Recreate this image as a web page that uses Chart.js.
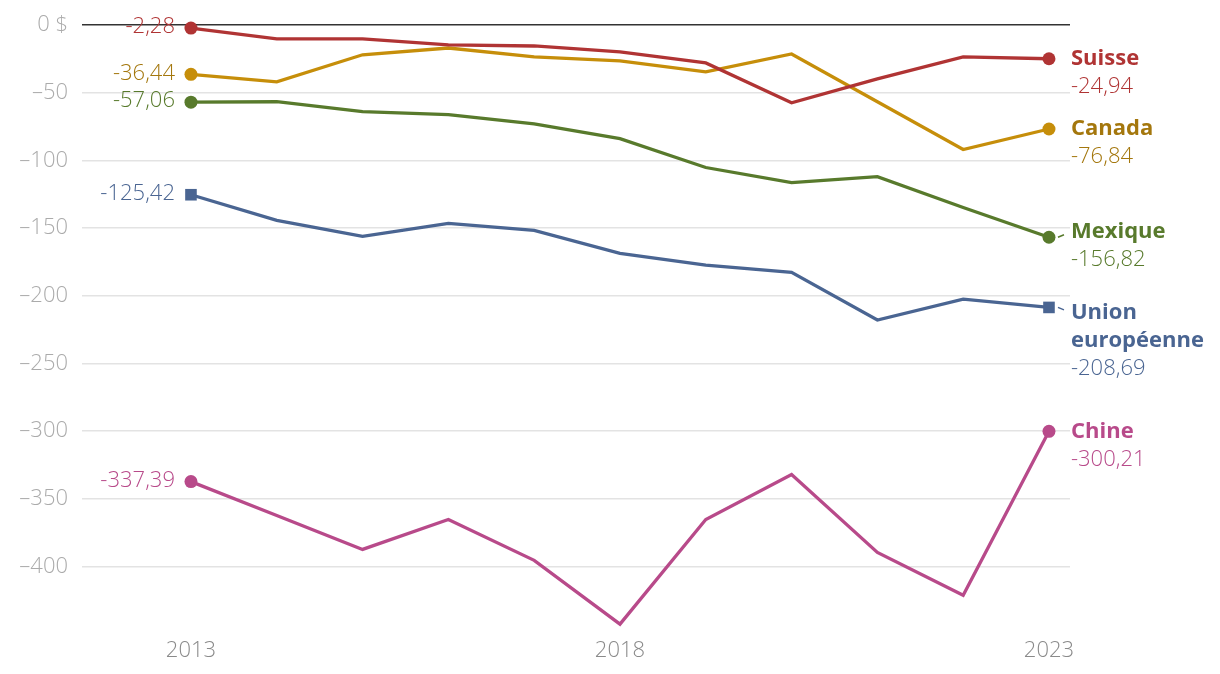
<!DOCTYPE html>
<html>
<head>
<meta charset="utf-8">
<script src="https://cdn.jsdelivr.net/npm/chart.js@4"></script>
<style>
  html, body { margin: 0; padding: 0; background: #fff; }
  #wrap { width: 1220px; height: 674px; }
</style>
</head>
<body>
<div id="wrap"><canvas id="balanceChart"></canvas></div>
<script>
// Années
const annees = [2013, 2014, 2015, 2016, 2017, 2018, 2019, 2020, 2021, 2022, 2023];
const xTicks = [2013, 2018, 2023];

// Soldes par partenaire (milliards $)
const suisse   = [-2.28, -10.3, -10.3, -14.7, -15.5, -19.9, -28.0, -57.5, -39.8, -23.6, -24.94];
const canada   = [-36.44, -42.0, -22.0, -17.0, -23.6, -26.5, -34.6, -21.4, -56.7, -92.0, -76.84];
const mexique  = [-57.06, -56.7, -64.0, -66.3, -73.0, -84.0, -105.3, -116.4, -112.0, -134.8, -156.82];
const ue       = [-125.42, -144.4, -156.2, -146.6, -151.7, -168.7, -177.5, -182.7, -218.0, -202.6, -208.69];
const chine    = [-337.39, -362.4, -387.5, -365.4, -395.6, -442.7, -365.4, -332.2, -389.7, -421.4, -300.21];

const yTicks = [0, -50, -100, -150, -200, -250, -300, -350, -400];

const font = "'Open Sans', Lato, sans-serif";
const fmt = v => v.toFixed(2).replace('.', ',');

function serie(nom, data, couleur, texte, forme, dy) {
    return {
        label: nom,
        data: data.map((v, i) => ({ x: annees[i], y: v })),
        borderColor: couleur,
        backgroundColor: couleur,
        borderWidth: 3.3,
        tension: 0,
        pointStyle: forme,
        pointBorderWidth: 0,
        pointRadius: c => (c.dataIndex === 0 || c.dataIndex === data.length - 1) ? (forme === 'rect' ? 8.2 : 6.5) : 0,
        pointHoverRadius: 0,
        clip: false,
        texte: texte,
        dy: dy || 0
    };
}

// Étiquettes début / fin
const etiquettes = {
    id: 'etiquettes',
    afterDatasetsDraw(chart) {
        const ctx = chart.ctx;
        chart.data.datasets.forEach((ds, i) => {
            const pts = chart.getDatasetMeta(i).data;
            const first = pts[0], last = pts[pts.length - 1];
            const v0 = ds.data[0].y, v1 = ds.data[ds.data.length - 1].y;
            ctx.save();
            ctx.textBaseline = 'middle';
            ctx.fillStyle = ds.texte;
            ctx.font = '300 22px ' + font;
            ctx.textAlign = 'right';
            ctx.fillText(fmt(v0), first.x - 16, first.y - 1);

            const lx = last.x + 22;
            let ly = last.y + ds.dy;
            if (ds.dy) {
                ctx.strokeStyle = ds.borderColor;
                ctx.lineWidth = 1.5;
                ctx.beginPath();
                ctx.moveTo(last.x + 9, last.y);
                ctx.lineTo(last.x + 15, last.y + ds.dy / 2);
                ctx.stroke();
            }
            ctx.textAlign = 'left';
            const lignes = ds.label.split('\n');
            ctx.font = 'bold 22px ' + font;
            lignes.forEach(l => { ctx.fillText(l, lx, ly); ly += 28; });
            ctx.font = '300 22px ' + font;
            ctx.fillText(fmt(v1), lx, ly);
            ctx.restore();
        });
    }
};

new Chart(document.getElementById('balanceChart'), {
    type: 'line',
    data: {
        datasets: [
            serie('Suisse', suisse, '#b03434', '#b03434', 'circle'),
            serie('Canada', canada, '#c68e0a', '#a4770d', 'circle'),
            serie('Mexique', mexique, '#587a2c', '#587a2c', 'circle', -5),
            serie('Union\neuropéenne', ue, '#4a6592', '#4a6592', 'rect', 5),
            serie('Chine', chine, '#b84a8a', '#b84a8a', 'circle')
        ]
    },
    options: {
        responsive: true,
        maintainAspectRatio: false,
        animation: false,
        layout: { padding: { top: 23, right: 150, left: 0, bottom: 0 } },
        plugins: {
            legend: { display: false },
            tooltip: { enabled: false }
        },
        scales: {
            x: {
                type: 'linear',
                min: 2011.73,
                max: 2023.245,
                afterBuildTicks: s => { s.ticks = xTicks.map(v => ({ value: v })); },
                afterFit: s => { s.height = 40; },
                grid: { display: false, drawTicks: false },
                border: { display: false },
                ticks: {
                    color: '#8a8a8a',
                    font: { family: font, size: 22, weight: '300', lineHeight: 1 },
                    padding: 6,
                    maxRotation: 0,
                    callback: v => String(v)
                }
            },
            y: {
                min: -450,
                max: 0,
                afterBuildTicks: s => { s.ticks = yTicks.map(v => ({ value: v })); },
                afterFit: s => { s.width = 82; },
                grid: {
                    drawTicks: false,
                    color: c => c.tick && c.tick.value === 0 ? '#333' : '#e3e3e3',
                    lineWidth: 1.5
                },
                border: { display: false },
                ticks: {
                    color: '#ababab',
                    font: { family: font, size: 22, weight: '300', lineHeight: 1 },
                    padding: 14,
                    callback: v => v === 0 ? '0 $' : '\u2013' + Math.abs(v)
                }
            }
        }
    },
    plugins: [etiquettes]
});
</script>
</body>
</html>
